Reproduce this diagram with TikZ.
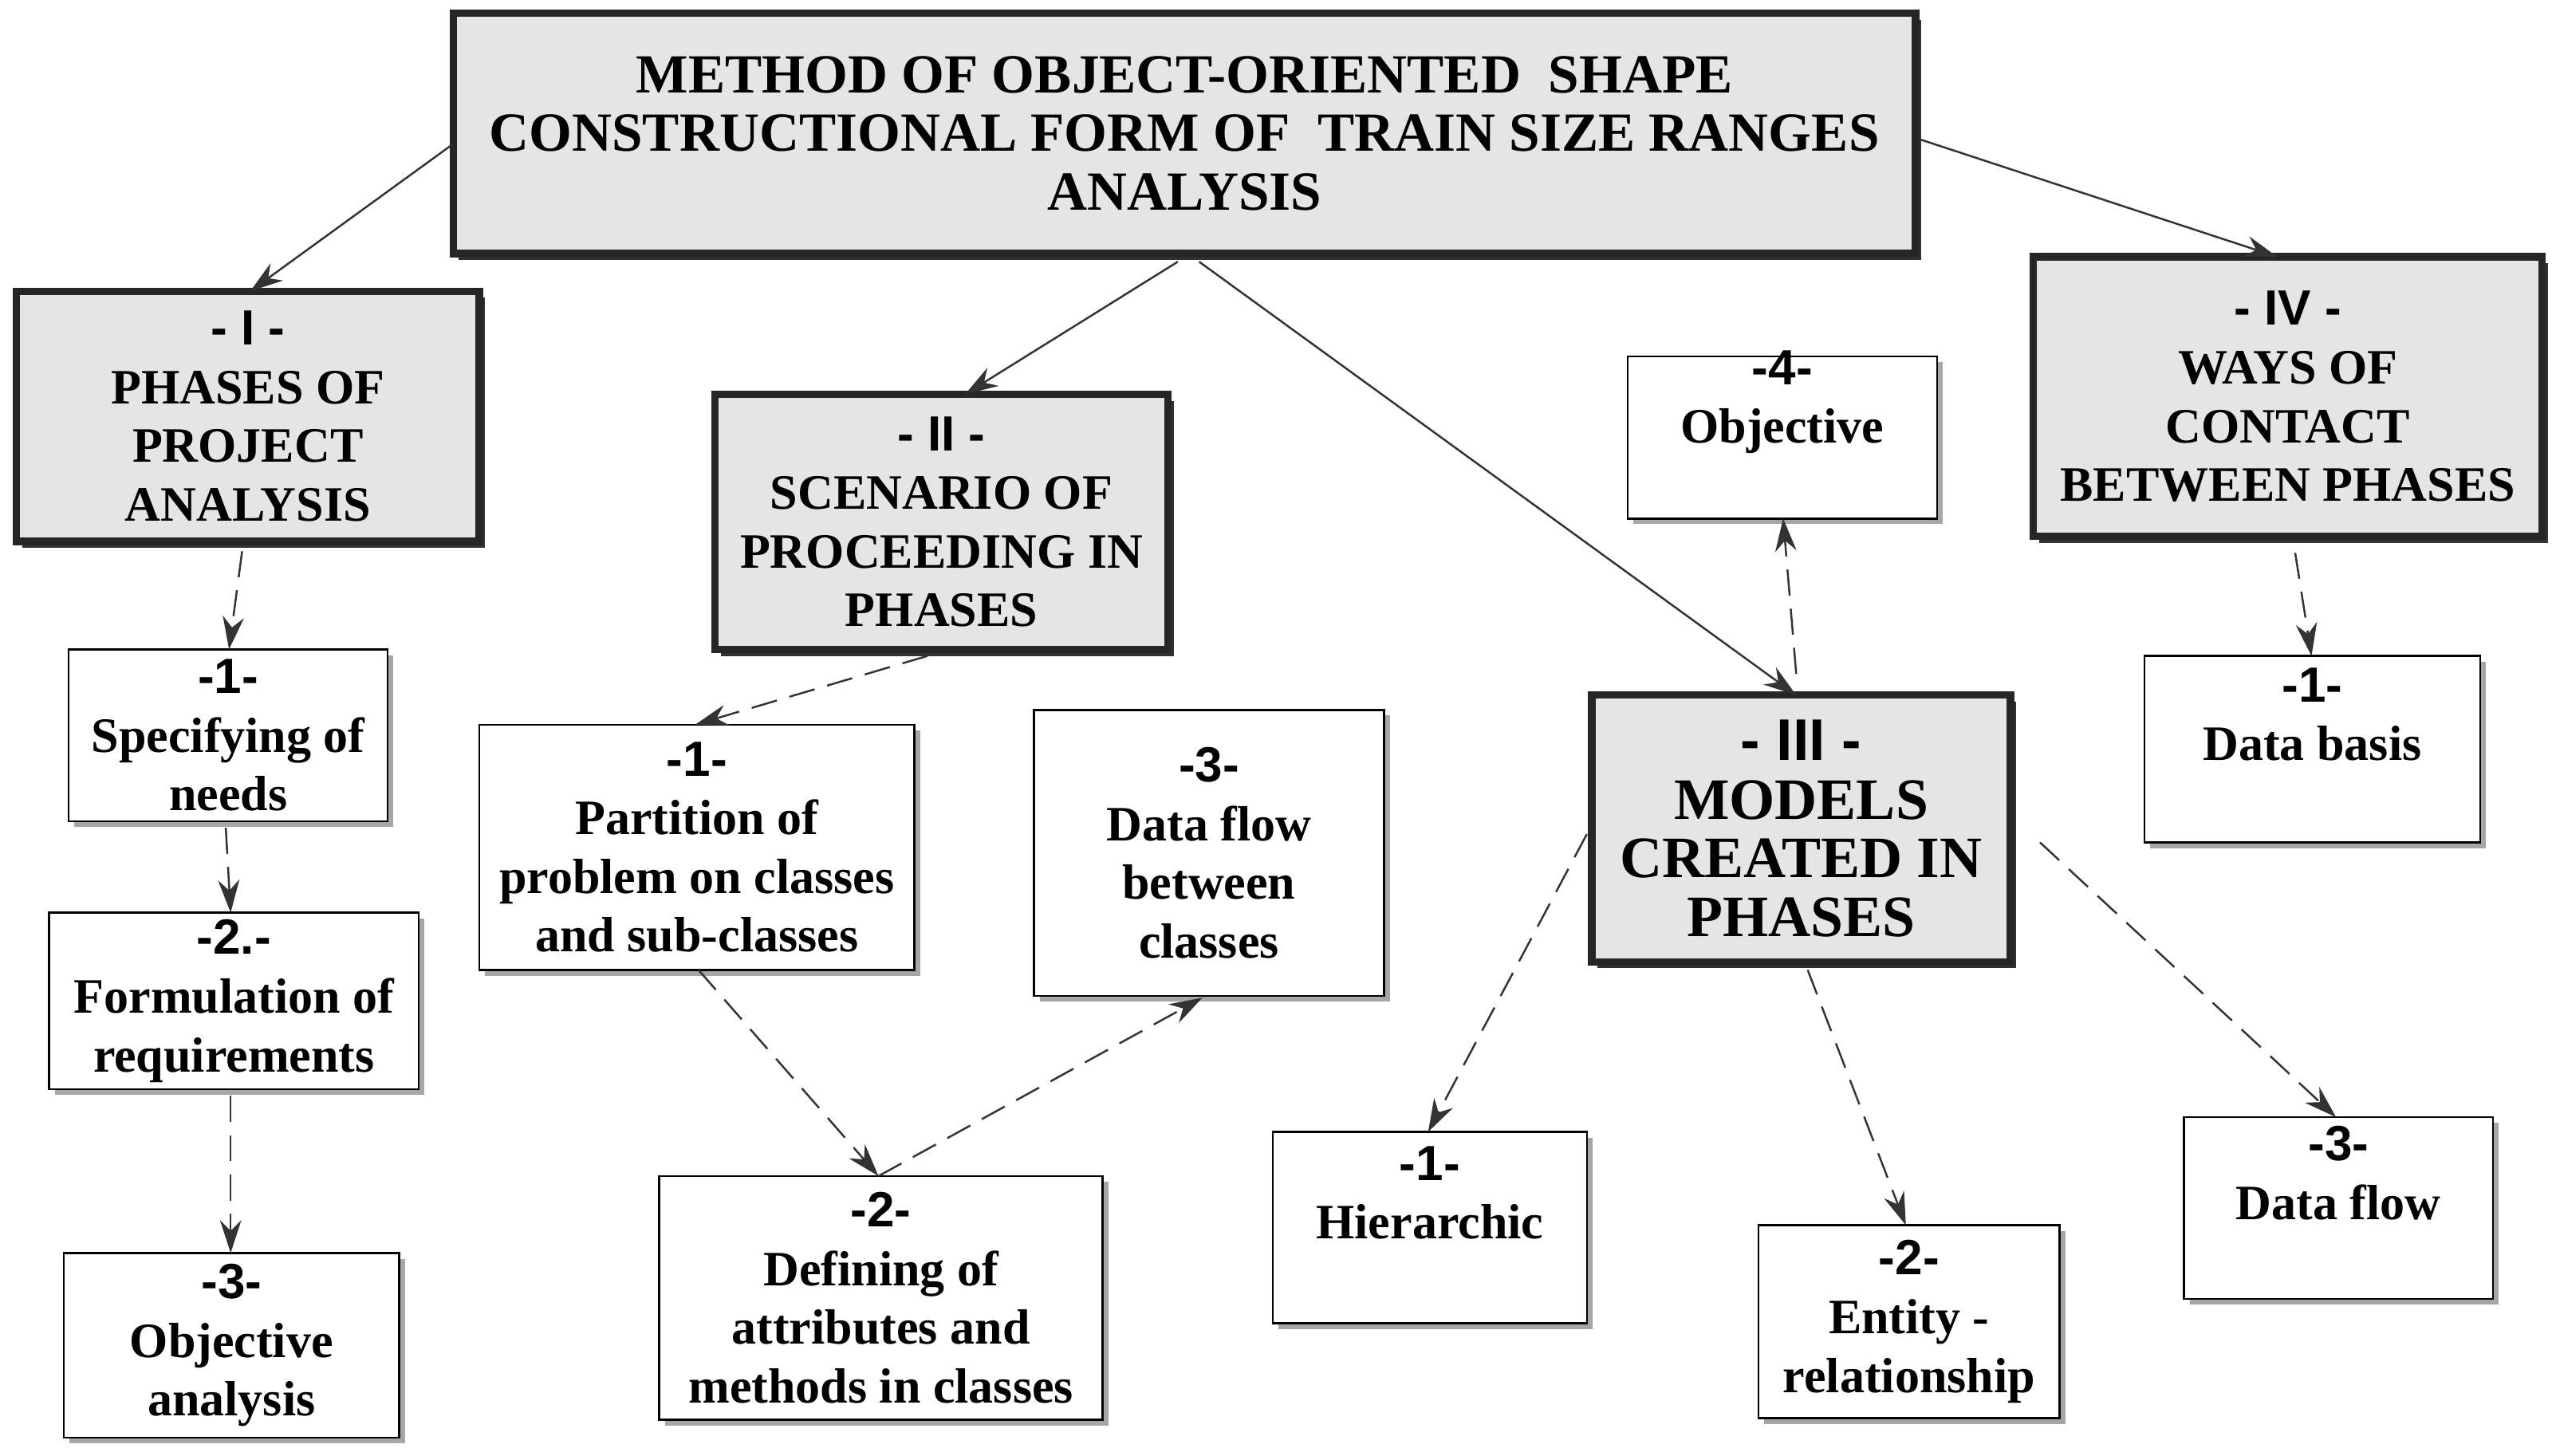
\documentclass[tikz,border=0pt]{standalone}
\usepackage{fontspec}
\setmainfont{Liberation Serif}
\newfontfamily\numf{Liberation Sans}
\usetikzlibrary{arrows.meta,shadows}
\begin{document}
\begin{tikzpicture}[x=0.01cm,y=-0.01cm,
 txt/.style={font=\fontsize{8.6}{10.2}\selectfont\bfseries, align=center, inner sep=0pt},
 big/.style={draw=black!85, line width=0.045cm, fill=black!10, drop shadow={shadow xshift=0.035cm, shadow yshift=-0.04cm, fill=black!80, opacity=1}},
 small/.style={draw=black, line width=0.012cm, fill=white, drop shadow={shadow xshift=0.035cm, shadow yshift=-0.035cm, fill=black!35, opacity=1}},
 sol/.style={draw=black!80, line width=0.012cm, -{Stealth[length=0.2cm,width=0.13cm]}},
 dsh/.style={sol, dash pattern=on 0.16cm off 0.08cm}]
\useasboundingbox (0,0) rectangle (1560,890);
\newcommand{\bx}[7]{% name style x1 y1 x2 y2 text
 \path[#2] (#3,#4) rectangle (#5,#6);
 \node[txt] (#1) at ({(#3+#5)/2},{(#4+#6)/2}) {#7};
 \coordinate (#1-nw) at (#3,#4); \coordinate (#1-se) at (#5,#6);}
\newcommand{\nm}[1]{{\numf\bfseries #1}}
\bx{main}{big}{277}{8}{1171}{155}{\fontsize{9.6}{12}\selectfont METHOD OF OBJECT-ORIENTED\ \ SHAPE\\\fontsize{9.6}{12}\selectfont CONSTRUCTIONAL FORM OF\ \ TRAIN SIZE RANGES\\\fontsize{9.6}{12}\selectfont ANALYSIS}
\bx{A}{big}{10}{178}{293}{331}{\nm{- I -}\\PHASES OF\\PROJECT\\ANALYSIS}
\bx{B}{big}{437}{241}{714}{397}{\nm{- II -}\\SCENARIO OF\\PROCEEDING IN\\PHASES}
\bx{C}{big}{973}{425}{1229}{588}{\fontsize{10.2}{12.2}\selectfont\nm{- III -}\\\fontsize{10.2}{12.2}\selectfont MODELS\\\fontsize{10.2}{12.2}\selectfont CREATED IN\\\fontsize{10.2}{12.2}\selectfont PHASES}
\bx{D}{big}{1243}{157}{1554}{328}{\nm{- IV -}\\WAYS OF\\CONTACT\\BETWEEN PHASES}
\bx{A1}{small}{42}{397}{237}{502}{\nm{-1-}\\Specifying of\\needs}
\bx{A2}{small}{30}{558}{256}{666}{\nm{-2.-}\\Formulation of\\requirements}
\bx{A3}{small}{39}{766}{244}{879}{\nm{-3-}\\Objective\\analysis}
\bx{B1}{small}{293}{443}{559}{593}{\nm{-1-}\\Partition of\\problem on classes\\and sub-classes}
\bx{B2}{small}{403}{719}{674}{868}{\nm{-2-}\\Defining of\\attributes and\\methods in classes}
\bx{B3}{small}{632}{434}{846}{609}{\nm{-3-}\\Data flow\\between\\classes}
\bx{C4}{small}{995}{218}{1184}{317}{\nm{-4-}\\Objective\\[4pt]}
\bx{C1}{small}{778}{692}{970}{809}{\nm{-1-}\\Hierarchic\\[2pt]}
\bx{C2}{small}{1075}{749}{1259}{867}{\nm{-2-}\\Entity -\\relationship}
\bx{C3}{small}{1335}{683}{1524}{794}{\nm{-3-}\\Data flow\\[2pt]}
\bx{D1}{small}{1311}{401}{1516}{515}{\nm{-1-}\\Data basis\\[2pt]}
% solid connectors
\coordinate (m1) at (277,88); \coordinate (a1) at (153,178);
\coordinate (m2) at (720,160); \coordinate (b1) at (590,241);
\coordinate (m3) at (733,160); \coordinate (c1) at (1098,425);
\coordinate (m4) at (1173,85); \coordinate (d1) at (1392,157);
\draw[sol] (m1) -- (a1);
\draw[sol] (m2) -- (b1);
\draw[sol] (m3) -- (c1);
\draw[sol] (m4) -- (d1);
% dashed
\coordinate (p1) at (148,337); \coordinate (q1) at (140,397);
\coordinate (p2) at (138,506); \coordinate (q2) at (141,558);
\coordinate (p3) at (141,670); \coordinate (q3) at (141,766);
\coordinate (p4) at (567,401); \coordinate (q4) at (425,443);
\coordinate (p5) at (427,593); \coordinate (q5) at (537,719);
\coordinate (q6) at (735,610);
\coordinate (p7) at (1098,412); \coordinate (q7) at (1090,317);
\coordinate (p8) at (970,510); \coordinate (q8) at (873,692);
\coordinate (p9) at (1105,593); \coordinate (q9) at (1165,749);
\coordinate (p10) at (1247,515); \coordinate (q10) at (1428,683);
\coordinate (p11) at (1403,338); \coordinate (q11) at (1413,401);
\draw[dsh] (p1) -- (q1);
\draw[dsh] (p2) -- (q2);
\draw[dsh] (p3) -- (q3);
\draw[dsh] (p4) -- (q4);
\draw[dsh] (p5) -- (q5);
\draw[dsh] (q5) -- (q6);
\draw[dsh] (p7) -- (q7);
\draw[dsh] (p8) -- (q8);
\draw[dsh] (p9) -- (q9);
\draw[dsh] (p10) -- (q10);
\draw[dsh] (p11) -- (q11);
\end{tikzpicture}
\end{document}
